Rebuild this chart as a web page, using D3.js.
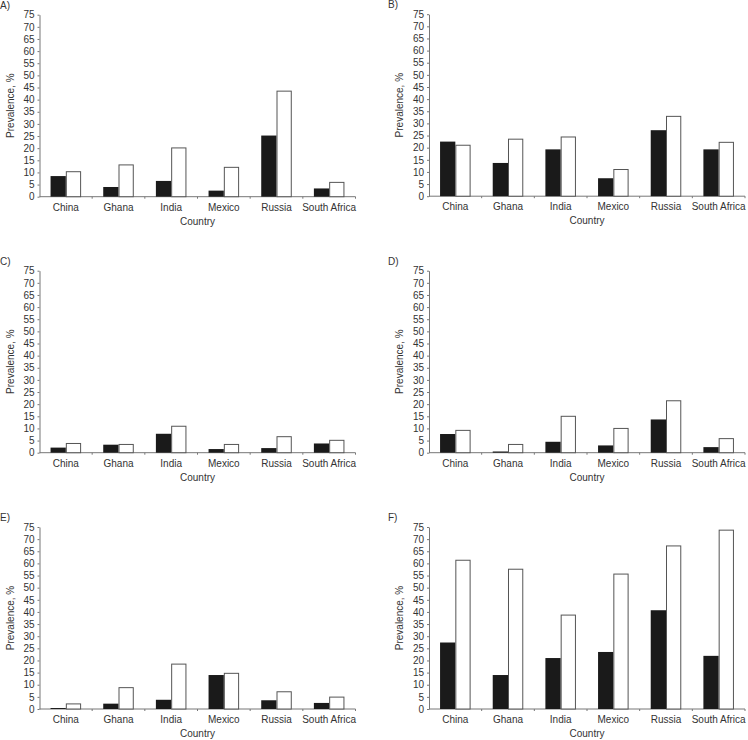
<!DOCTYPE html>
<html>
<head>
<meta charset="utf-8">
<script src="https://cdn.jsdelivr.net/npm/d3@7"></script>
<style>
  body { margin: 0; background: #fff; }
  svg text { font-family: "Liberation Sans", Arial, sans-serif; fill: #333; }
</style>
</head>
<body>
<div id="chart"></div>
<script>
var countries = ['China', 'Ghana', 'India', 'Mexico', 'Russia', 'South Africa'];
var yTicks = d3.range(0, 80, 5);

// black bars / white bars per panel
var blackA = [8.5, 4.0, 6.5, 2.5, 25.2, 3.4];
var whiteA = [10.3, 13.1, 20.1, 12.1, 43.5, 5.9];
var blackB = [22.5, 13.7, 19.3, 7.4, 27.2, 19.3];
var whiteB = [21.0, 23.5, 24.4, 11.0, 32.9, 22.2];
var blackC = [2.1, 3.3, 7.8, 1.5, 1.9, 3.8];
var whiteC = [3.8, 3.4, 10.9, 3.4, 6.6, 5.1];
var blackD = [7.7, 0.5, 4.5, 3.0, 13.7, 2.3];
var whiteD = [9.2, 3.4, 15.0, 10.0, 21.4, 5.8];
var blackE = [0.4, 2.2, 3.8, 14.0, 3.6, 2.5];
var whiteE = [2.1, 8.8, 18.5, 14.7, 7.1, 4.9];
var blackF = [27.4, 14.0, 21.0, 23.5, 40.7, 21.9];
var whiteF = [61.3, 57.6, 38.7, 55.6, 67.2, 73.7];

var panels = [
  { label: 'A)', black: blackA, white: whiteA, lx: 0,   ax: 39.5, ay: 14.7 },
  { label: 'B)', black: blackB, white: whiteB, lx: 388, ax: 429,  ay: 14.2 },
  { label: 'C)', black: blackC, white: whiteC, lx: 0,   ax: 39.5, ay: 270.7 },
  { label: 'D)', black: blackD, white: whiteD, lx: 388, ax: 429,  ay: 270.7 },
  { label: 'E)', black: blackE, white: whiteE, lx: 0,   ax: 39.5, ay: 527 },
  { label: 'F)', black: blackF, white: whiteF, lx: 388, ax: 429,  ay: 527 }
];

var plotW = 316, plotH = 182;

var svg = d3.select('#chart').append('svg')
  .attr('width', 748)
  .attr('height', 740);

panels.forEach(function (p) {
  var g = svg.append('g')
    .attr('transform', 'translate(' + p.ax + ',' + p.ay + ')');

  var x = d3.scaleBand().domain(countries).range([0, plotW]).paddingInner(0.42).paddingOuter(0.21);
  var x1 = d3.scaleBand().domain(['black', 'white']).range([0, x.bandwidth()]);
  var y = d3.scaleLinear().domain([0, 75]).range([plotH, 0]);

  // y axis
  var yAxis = g.append('g')
    .call(d3.axisLeft(y).tickValues(yTicks).tickSize(2).tickPadding(3).tickSizeOuter(0));
  yAxis.select('.domain').attr('stroke', '#777');
  yAxis.selectAll('.tick line').attr('stroke', '#777');
  yAxis.selectAll('.tick text').style('font-size', '10px');

  // x axis: baseline, small separators between categories, labels
  var xg = g.append('g').attr('transform', 'translate(0,' + plotH + ')');
  xg.append('line').attr('x1', 0).attr('x2', plotW).attr('stroke', '#777');
  xg.selectAll('.sep')
    .data(d3.range(1, countries.length + 1))
    .enter().append('line')
    .attr('x1', function (d) { return d * x.step(); })
    .attr('x2', function (d) { return d * x.step(); })
    .attr('y1', 0).attr('y2', 2)
    .attr('stroke', '#777');
  xg.selectAll('.lab')
    .data(countries)
    .enter().append('text')
    .attr('x', function (d) { return x(d) + x.bandwidth() / 2; })
    .attr('y', 14)
    .attr('text-anchor', 'middle')
    .style('font-size', '10px')
    .text(function (d) { return d; });

  // bars
  var groups = g.selectAll('.grp')
    .data(countries)
    .enter().append('g')
    .attr('transform', function (d) { return 'translate(' + x(d) + ',0)'; });

  groups.append('rect')
    .attr('x', x1('black'))
    .attr('width', x1.bandwidth())
    .attr('y', function (d, i) { return y(p.black[i]); })
    .attr('height', function (d, i) { return plotH - y(p.black[i]); })
    .attr('fill', '#1a1a1a');

  groups.append('rect')
    .attr('x', x1('white') + 0.5)
    .attr('width', x1.bandwidth() - 1)
    .attr('y', function (d, i) { return y(p.white[i]); })
    .attr('height', function (d, i) { return plotH - y(p.white[i]); })
    .attr('fill', '#fff')
    .attr('stroke', '#555')
    .attr('stroke-width', 1);

  // titles
  g.append('text')
    .attr('transform', 'translate(' + (-26) + ',' + (plotH / 2) + ') rotate(-90)')
    .attr('text-anchor', 'middle')
    .style('font-size', '10px')
    .text('Prevalence, %');

  g.append('text')
    .attr('x', plotW / 2)
    .attr('y', plotH + 28)
    .attr('text-anchor', 'middle')
    .style('font-size', '10px')
    .text('Country');

  svg.append('text')
    .attr('x', p.lx)
    .attr('y', p.ay - 6)
    .style('font-size', '10px')
    .text(p.label);
});
</script>
</body>
</html>
